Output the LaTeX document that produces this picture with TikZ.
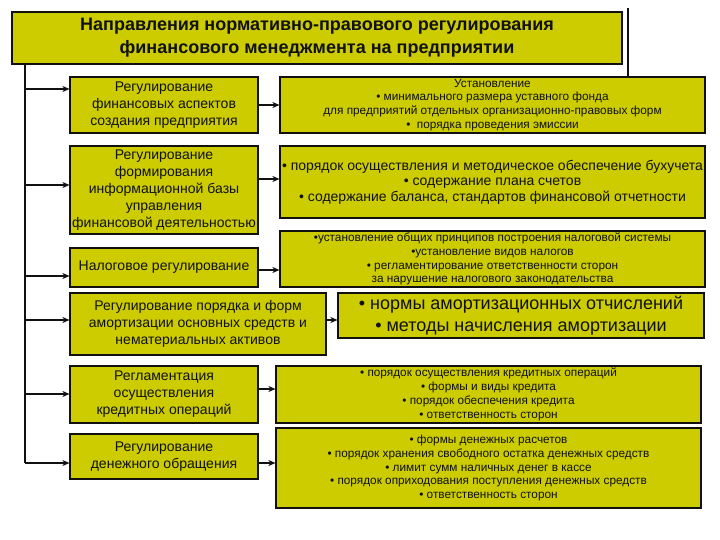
\documentclass[tikz,border=0pt]{standalone}
\usepackage{fontspec}
\setmainfont{Liberation Sans}
\usetikzlibrary{arrows.meta}
\definecolor{olive}{HTML}{CCCC00}
\definecolor{ink}{HTML}{111111}

\begin{document}
\begin{tikzpicture}[
    x=1pt, y=-1pt,
    >={Stealth[length=7pt, width=6pt, inset=2pt]},
    box/.style={draw=ink, fill=olive, line width=1.1pt, inner sep=0pt,
                align=center, text=ink},
    head/.style={box, font=\bfseries\fontsize{18}{23}\selectfont},
    area/.style={box, font=\fontsize{14}{17}\selectfont},
    small/.style={box, font=\fontsize{11.8}{13.8}\selectfont},
    mid/.style={box, font=\fontsize{14}{15.5}\selectfont},
    big/.style={box, font=\fontsize{18}{22}\selectfont},
    e/.style={->, line width=1.1pt, draw=ink},
    trunk/.style={line width=1.2pt, draw=ink},
  ]
    \useasboundingbox (0,0) rectangle (720,540);
    % --- title -----------------------------------------------------------
    \node[head, minimum width=610pt, minimum height=52pt] (top) at (317,38)
      {Направления нормативно-правового регулирования\\
       финансового менеджмента на предприятии};
    % --- left column: areas ----------------------------------------------
    \node[area, minimum width=188pt, minimum height=56pt] (cre) at (164,105)
      {Регулирование\\финансовых аспектов\\создания предприятия};
    \node[area, minimum width=188pt, minimum height=88pt] (inf) at (164,190)
      {Регулирование\\формирования\\информационной базы\\управления\\финансовой деятельностью};
    \node[area, minimum width=188pt, minimum height=39pt] (tax) at (164,267.5)
      {Налоговое регулирование};
    \node[area, minimum width=256pt, minimum height=62pt] (dep) at (198,324)
      {Регулирование порядка и форм\\амортизации основных средств и\\нематериальных активов};
    \node[area, minimum width=188pt, minimum height=57pt] (crd) at (164,394.5)
      {Регламентация\\осуществления\\кредитных операций};
    \node[area, minimum width=188pt, minimum height=45pt] (cash) at (164,456.5)
      {Регулирование\\денежного обращения};
    % --- right column: contents ------------------------------------------
    \node[small, minimum width=425pt, minimum height=56pt] (creR) at (492.5,105)
      {Установление\\• минимального размера уставного фонда\\
       для предприятий отдельных организационно-правовых форм\\
       •\ \ порядка проведения эмиссии};
    \node[mid, minimum width=425pt, minimum height=72pt] (infR) at (492.5,182)
      {• порядок осуществления и методическое обеспечение бухучета\\
       • содержание плана счетов\\
       • содержание баланса, стандартов финансовой отчетности};
    \node[small, minimum width=425pt, minimum height=56pt] (taxR) at (492.5,259)
      {•установление общих принципов построения налоговой системы\\
       •установление видов налогов\\
       • регламентирование ответственности сторон\\
       за нарушение налогового законодательства};
    \node[big, minimum width=366pt, minimum height=45pt] (depR) at (521,315.5)
      {• нормы амортизационных отчислений\\
       • методы начисления амортизации};
    \node[small, minimum width=425pt, minimum height=57pt] (crdR) at (488.5,394.5)
      {• порядок осуществления кредитных операций\\
       • формы и виды кредита\\
       • порядок обеспечения кредита\\
       • ответственность сторон};
    \node[small, minimum width=425pt, minimum height=80pt] (cashR) at (488.5,468)
      {• формы денежных расчетов\\
       • порядок хранения свободного остатка денежных средств\\
       • лимит сумм наличных денег в кассе\\
       • порядок оприходования поступления денежных средств\\
       • ответственность сторон};
    % --- trunk -----------------------------------------------------------
    \coordinate (t0) at (25,64);
    \coordinate (t1) at (25,89);
    \coordinate (t2) at (25,185);
    \coordinate (t3) at (25,276);
    \coordinate (t4) at (25,320);
    \coordinate (t5) at (25,394);
    \coordinate (t6) at (25,463);
    \coordinate (up) at (628,8);
    \draw[trunk] (t0) -- (t6);
    \draw[trunk] (up) -- (up |- creR.north);
    % --- edges -----------------------------------------------------------
    \draw[e] (t1) -- (t1 -| cre.west);
    \draw[e] (t2) -- (t2 -| inf.west);
    \draw[e] (t3) -- (t3 -| tax.west);
    \draw[e] (t4) -- (t4 -| dep.west);
    \draw[e] (t5) -- (t5 -| crd.west);
    \draw[e] (t6) -- (t6 -| cash.west);
    \draw[e] (cre.east |- 0,105) -- (creR.west |- 0,105);
    \draw[e] (inf.east |- 0,179) -- (infR.west |- 0,179);
    \draw[e] (tax.east |- 0,270) -- (taxR.west |- 0,270);
    \draw[e] (dep.east |- 0,320) -- (depR.west |- 0,320);
    \draw[e] (crd.east |- 0,389) -- (crdR.west |- 0,389);
    \draw[e] (cash.east |- 0,463) -- (cashR.west |- 0,463);
  \end{tikzpicture}
\end{document}
